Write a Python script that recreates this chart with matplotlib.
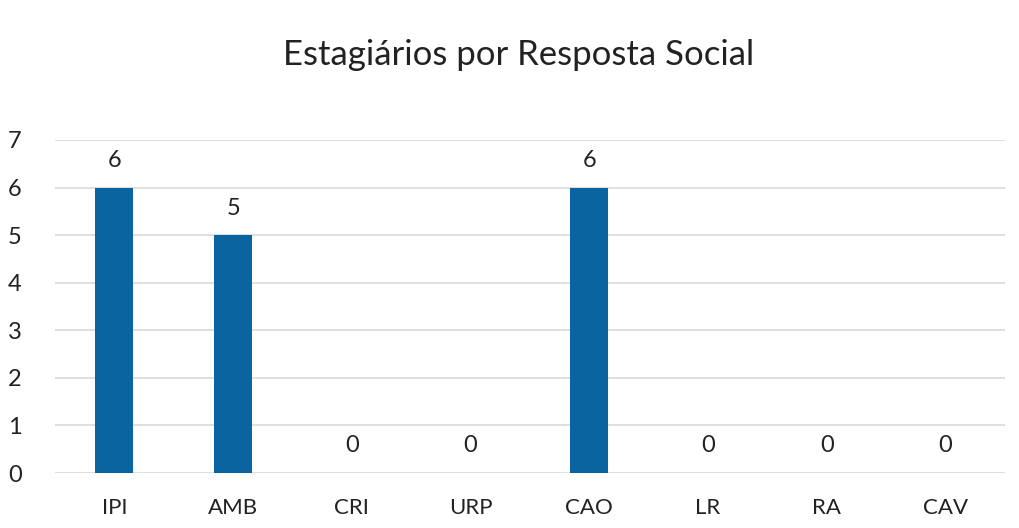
import matplotlib
matplotlib.use("Agg")
import matplotlib.pyplot as plt

categories = ["IPI", "AMB", "CRI", "URP", "CAO", "LR", "RA", "CAV"]
values = [6, 5, 0, 0, 6, 0, 0, 0]
title = "Estagiários por Resposta Social"

plt.rcParams["font.family"] = ["Lato", "DejaVu Sans"]

fig = plt.figure(figsize=(10.19, 5.28), dpi=100)
ax = fig.add_axes([55 / 1019, 55 / 528, 950 / 1019, 333 / 528])

x = range(len(categories))
bars = ax.bar(x, values, width=0.32, color="#0a64a0", zorder=3)

for xi, v in zip(x, values):
    ax.annotate(str(v), (xi, v), xytext=(0, 19.5), textcoords="offset points",
                ha="center", va="center", fontsize=17, color="#222222")

ax.set_xlim(-0.5, len(categories) - 0.5)
ax.set_ylim(0, 7)
ax.set_yticks(range(0, 8))
ax.set_xticks(list(x))
ax.set_xticklabels(categories)
ax.tick_params(axis="y", length=0, pad=24, labelsize=17, labelcolor="#222222")
ax.tick_params(axis="x", length=0, pad=18, labelsize=16, labelcolor="#222222")
ax.grid(axis="y", color="#d9d9d9", lw=1.2, zorder=0)
for s in ax.spines.values():
    s.set_visible(False)

fig.text(0.509, 1 - 55 / 528, title, ha="center", va="center",
         fontsize=25, color="#222222")

fig.savefig("out.png", dpi=100)
